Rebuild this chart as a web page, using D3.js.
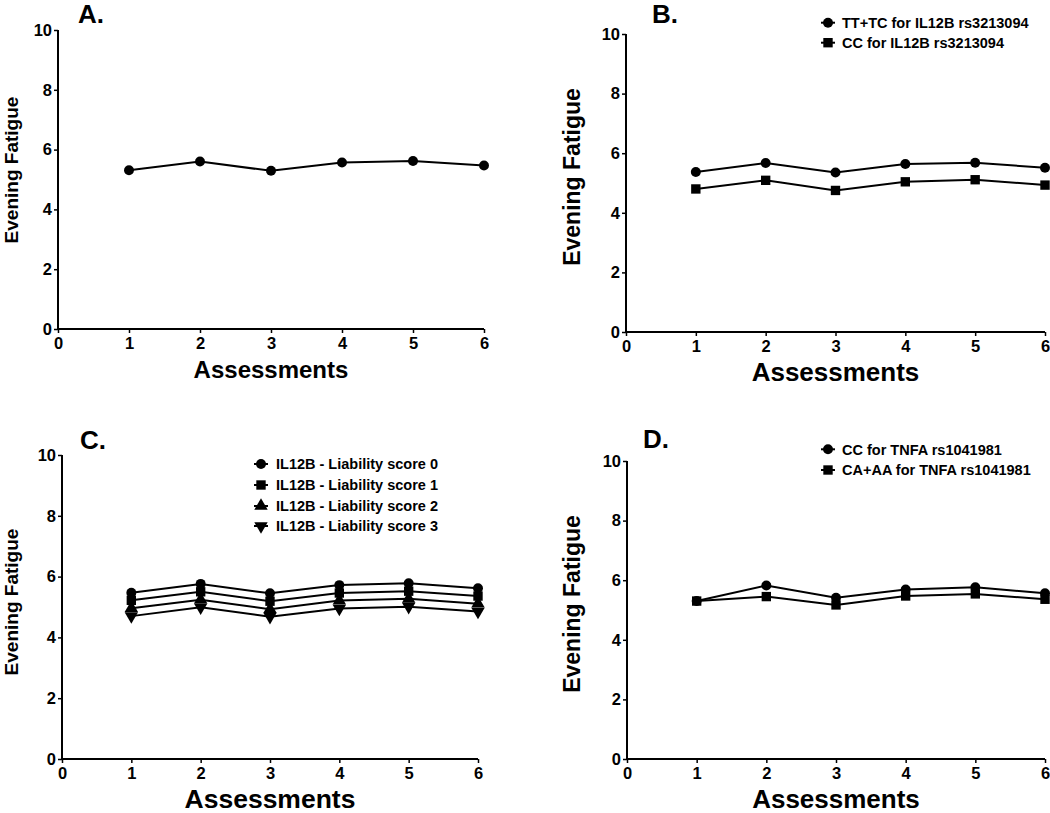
<!DOCTYPE html>
<html>
<head>
<meta charset="utf-8">
<script src="https://cdn.jsdelivr.net/npm/d3@7"></script>
<style>
  html, body { margin: 0; padding: 0; background: #fff; }
  svg { display: block; }
  text { font-family: "Liberation Sans", Arial, sans-serif; font-weight: bold; fill: #000; }
</style>
</head>
<body>
<svg id="chart" width="1050" height="813"></svg>
<script>
// ---------------- data ----------------
const assessments = [1, 2, 3, 4, 5, 6];
const xTickValues = [0, 1, 2, 3, 4, 5, 6];
const yTickValues = [0, 2, 4, 6, 8, 10];
const yTitle = "Evening Fatigue";
const xTitle = "Assessments";
const panelLetters = ["A.", "B.", "C.", "D."];

const fatigueAll = [5.31, 5.60, 5.29, 5.57, 5.62, 5.47];

const il12bTTTC = [5.37, 5.67, 5.35, 5.64, 5.68, 5.51];
const il12bCC   = [4.80, 5.09, 4.75, 5.04, 5.11, 4.93];
const panelBLabels = ["TT+TC for IL12B rs3213094", "CC for IL12B rs3213094"];

const liability0 = [5.47, 5.76, 5.45, 5.72, 5.78, 5.62];
const liability1 = [5.22, 5.50, 5.19, 5.46, 5.52, 5.36];
const liability2 = [4.96, 5.24, 4.93, 5.21, 5.27, 5.11];
const liability3 = [4.70, 4.99, 4.68, 4.95, 5.01, 4.85];
const panelCLabels = ["IL12B - Liability score 0", "IL12B - Liability score 1",
                      "IL12B - Liability score 2", "IL12B - Liability score 3"];

const tnfaCC   = [5.30, 5.82, 5.41, 5.69, 5.76, 5.56];
const tnfaCAAA = [5.30, 5.45, 5.17, 5.47, 5.54, 5.36];
const panelDLabels = ["CC for TNFA rs1041981", "CA+AA for TNFA rs1041981"];

// ---------------- layout ----------------
const svg = d3.select("#chart");

const symCircle = d3.symbol().type(d3.symbolCircle).size(78)();
const symSquare = d3.symbol().type(d3.symbolSquare).size(88)();
const symTri    = d3.symbol().type(d3.symbolTriangle).size(78)();

const markerDefs = {
  circle: { path: symCircle, rot: 0 },
  square: { path: symSquare, rot: 0 },
  tri:    { path: symTri, rot: 0 },
  triDown:{ path: symTri, rot: 180 }
};

const panels = [
  { letter: panelLetters[0], x0: 58, x1: 484, yTop: 30, yBot: 329,
    letterX: 78, letterY: 23, yTitleX: 17.5, yTitleY: 170, yTitleSize: 19, xTitleSize: 24,
    series: [{ values: fatigueAll, marker: "circle" }],
    legend: null },
  { letter: panelLetters[1], x0: 626, x1: 1045, yTop: 34, yBot: 332,
    letterX: 652, letterY: 23, yTitleX: 580, yTitleY: 177, yTitleSize: 23, xTitleSize: 26,
    series: [{ values: il12bTTTC, marker: "circle" }, { values: il12bCC, marker: "square" }],
    legend: { x: 828, tx: 842, ys: [22.7, 42.7], labels: panelBLabels } },
  { letter: panelLetters[2], x0: 62, x1: 478, yTop: 455, yBot: 759,
    letterX: 80, letterY: 449, yTitleX: 17.5, yTitleY: 602, yTitleSize: 19, xTitleSize: 26.5,
    series: [{ values: liability0, marker: "circle" }, { values: liability1, marker: "square" },
             { values: liability2, marker: "tri" }, { values: liability3, marker: "triDown" }],
    legend: { x: 261, tx: 276, ys: [464, 485, 506, 526], labels: panelCLabels } },
  { letter: panelLetters[3], x0: 627, x1: 1045, yTop: 461, yBot: 759,
    letterX: 643, letterY: 448, yTitleX: 580, yTitleY: 604, yTitleSize: 23, xTitleSize: 26,
    series: [{ values: tnfaCC, marker: "circle" }, { values: tnfaCAAA, marker: "square" }],
    legend: { x: 828, tx: 842, ys: [449.3, 470], labels: panelDLabels } }
];

panels.forEach(p => {
  const g = svg.append("g");
  const x = d3.scaleLinear().domain([0, 6]).range([p.x0, p.x1]);
  const y = d3.scaleLinear().domain([0, 10]).range([p.yBot, p.yTop]);

  // axes
  const xAxis = d3.axisBottom(x).tickValues(xTickValues).tickSize(4).tickPadding(4).tickFormat(d3.format("d"));
  const yAxis = d3.axisLeft(y).tickValues(yTickValues).tickSize(4).tickPadding(2).tickFormat(d3.format("d"));

  const gx = g.append("g").attr("transform", `translate(0,${p.yBot})`).call(xAxis);
  const gy = g.append("g").attr("transform", `translate(${p.x0},0)`).call(yAxis);
  [gx, gy].forEach(ax => {
    ax.attr("font-size", null).attr("font-family", null);
    ax.select(".domain").attr("stroke", "#000").attr("stroke-width", 2);
    ax.selectAll(".tick line").attr("stroke", "#000").attr("stroke-width", 1.5);
    ax.selectAll(".tick text").style("font-family", '"Liberation Sans", Arial, sans-serif')
      .style("font-weight", "bold").style("font-size", "16.5px").attr("fill", "#000");
  });
  gx.select(".domain").attr("d", `M${p.x0},0H${p.x1}`);
  gy.select(".domain").attr("d", `M0,${p.yBot}V${p.yTop}`);

  // titles
  g.append("text")
    .attr("x", (p.x0 + p.x1) / 2).attr("y", p.yBot + 49)
    .attr("text-anchor", "middle").style("font-size", p.xTitleSize + "px")
    .text(xTitle);
  g.append("text")
    .attr("transform", `translate(${p.yTitleX},${p.yTitleY}) rotate(-90)`)
    .attr("text-anchor", "middle").style("font-size", p.yTitleSize + "px")
    .text(yTitle);
  g.append("text")
    .attr("x", p.letterX).attr("y", p.letterY)
    .style("font-size", "26px")
    .text(p.letter);

  // series
  const line = d3.line().x((d, i) => x(assessments[i])).y(d => y(d));
  p.series.forEach(s => {
    g.append("path").datum(s.values)
      .attr("d", line).attr("fill", "none").attr("stroke", "#000").attr("stroke-width", 2);
  });
  p.series.slice().reverse().forEach(s => {
    const m = markerDefs[s.marker];
    g.selectAll(null).data(s.values).enter().append("path")
      .attr("d", m.path)
      .attr("transform", (d, i) => `translate(${x(assessments[i])},${y(d)}) rotate(${m.rot})`)
      .attr("fill", "#000");
  });

  // legend
  if (p.legend) {
    p.legend.labels.forEach((lab, i) => {
      const ly = p.legend.ys[i];
      const m = markerDefs[p.series[i].marker];
      g.append("line").attr("x1", p.legend.x - 7).attr("x2", p.legend.x + 7)
        .attr("y1", ly).attr("y2", ly).attr("stroke", "#000").attr("stroke-width", 2);
      g.append("path").attr("d", m.path)
        .attr("transform", `translate(${p.legend.x},${ly}) rotate(${m.rot})`)
        .attr("fill", "#000");
      g.append("text").attr("x", p.legend.tx).attr("y", ly + 5.2)
        .style("font-size", "14.5px").text(lab);
    });
  }
});
</script>
</body>
</html>
